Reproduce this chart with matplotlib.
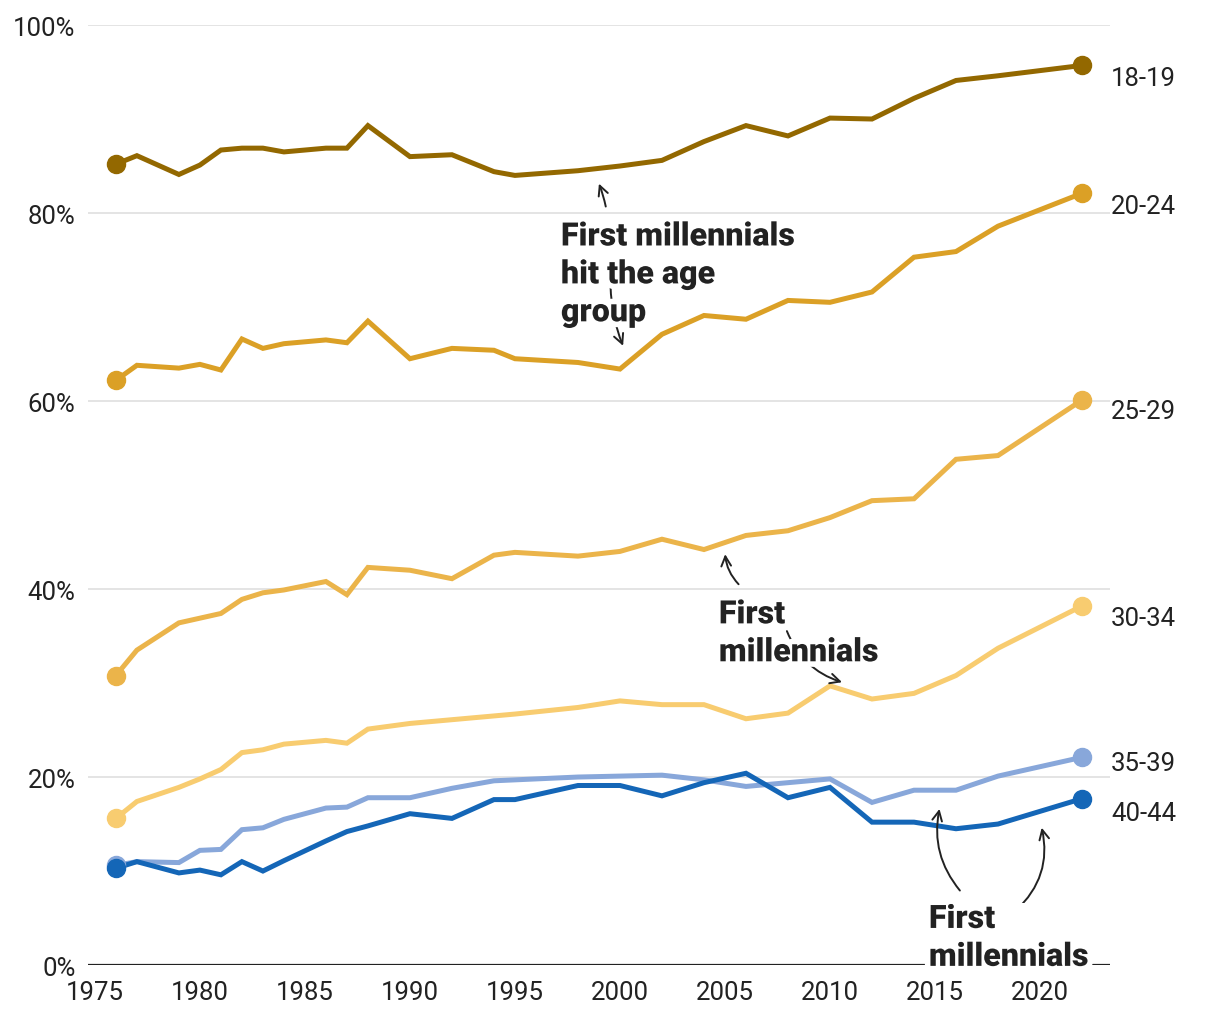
import matplotlib
matplotlib.use("Agg")
import matplotlib.pyplot as plt
import matplotlib.patheffects as pe

# survey years (2020 missing)
years = [1976, 1977, 1979, 1980, 1981, 1982, 1983, 1984, 1986, 1987, 1988, 1990,
         1992, 1994, 1995, 1998, 2000, 2002, 2004, 2006, 2008, 2010, 2012, 2014,
         2016, 2018, 2022]

age_18_19 = [85.2, 86.1, 84.1, 85.1, 86.7, 86.9, 86.9, 86.5, 86.9, 86.9, 89.3, 86.0,
             86.2, 84.4, 84.0, 84.5, 85.0, 85.6, 87.6, 89.3, 88.2, 90.1, 90.0, 92.2,
             94.1, 94.6, 95.7]
age_20_24 = [62.2, 63.8, 63.5, 63.9, 63.3, 66.6, 65.6, 66.1, 66.5, 66.2, 68.5, 64.5,
             65.6, 65.4, 64.5, 64.1, 63.4, 67.1, 69.1, 68.7, 70.7, 70.5, 71.6, 75.3,
             75.9, 78.6, 82.1]
age_25_29 = [30.8, 33.5, 36.4, 36.9, 37.4, 38.9, 39.6, 39.9, 40.8, 39.4, 42.3, 42.0,
             41.1, 43.6, 43.9, 43.5, 44.0, 45.3, 44.2, 45.7, 46.2, 47.6, 49.4, 49.6,
             53.8, 54.2, 60.1]
age_30_34 = [15.6, 17.4, 18.9, 19.8, 20.8, 22.6, 22.9, 23.5, 23.9, 23.6, 25.1, 25.7,
             26.1, 26.5, 26.7, 27.4, 28.1, 27.7, 27.7, 26.2, 26.8, 29.7, 28.3, 28.9,
             30.8, 33.7, 38.2]
age_35_39 = [10.6, 11.0, 10.9, 12.2, 12.3, 14.4, 14.6, 15.5, 16.7, 16.8, 17.8, 17.8,
             18.8, 19.6, 19.7, 20.0, 20.1, 20.2, 19.7, 19.0, 19.4, 19.8, 17.3, 18.6,
             18.6, 20.1, 22.1]
age_40_44 = [10.3, 11.0, 9.8, 10.1, 9.6, 11.0, 10.0, 11.1, 13.2, 14.2, 14.8, 16.1,
             15.6, 17.6, 17.6, 19.1, 19.1, 18.0, 19.4, 20.4, 17.8, 18.9, 15.2, 15.2,
             14.5, 15.0, 17.7]

labels = ["18-19", "20-24", "25-29", "30-34", "35-39", "40-44"]
series = [age_18_19, age_20_24, age_25_29, age_30_34, age_35_39, age_40_44]
colors = ["#936800", "#DBA026", "#EBB44A", "#F8CC70", "#88A7DA", "#1466B7"]
label_dy = [-9, -9, -8, -9, -4, -10]

x_ticks = [1975, 1980, 1985, 1990, 1995, 2000, 2005, 2010, 2015, 2020]
y_ticks = [0, 20, 40, 60, 80, 100]

TXT = "#222222"
plt.rcParams['font.family'] = ['Roboto', 'DejaVu Sans']

fig = plt.figure(figsize=(12.2, 10.2), dpi=100)
ax = fig.add_axes([0.0721, 0.0529, 0.8377, 0.9216])
ax.set_xlim(1974.67, 2023.33)
ax.set_ylim(0, 100)

for y in y_ticks[1:]:
    ax.axhline(y, color="#dddddd", lw=1.1, zorder=1)
ax.axhline(0, color=TXT, lw=1.6, zorder=2)

for name, vals, c, dy in zip(labels, series, colors, label_dy):
    ax.plot(years, vals, color=c, lw=3.6, zorder=3, solid_joinstyle='miter')
    ax.plot([years[0], years[-1]], [vals[0], vals[-1]], 'o', color=c, ms=13, zorder=4)
    ax.annotate(name, xy=(years[-1], vals[-1]), xytext=(21, dy),
                textcoords='offset points', fontsize=18.5, color=TXT,
                ha='left', va='center', annotation_clip=False)

for s in ax.spines.values():
    s.set_visible(False)
ax.set_xticks(x_ticks)
ax.set_yticks(y_ticks)
ax.set_yticklabels([f"{v}%" for v in y_ticks])
ax.tick_params(length=0, labelsize=18.5, colors=TXT)
ax.tick_params(axis='x', pad=11)
ax.tick_params(axis='y', pad=9)

halo = [pe.withStroke(linewidth=8, foreground='white')]
note = dict(fontsize=23.2, fontweight='black', color=TXT, ha='left', va='top',
            linespacing=1.33, zorder=6)
arrow = dict(arrowstyle='->,head_length=0.7,head_width=0.35', color=TXT, lw=1.4)

t1 = ax.text(1997.19, 79.1, "First millennials\nhit the age\ngroup", **note)
t1.set_path_effects(halo)
ax.annotate("", xy=(1998.95, 83.4), xytext=(1999.35, 80.4),
            arrowprops=dict(**arrow, connectionstyle="arc3,rad=0.05"), zorder=5)
ax.annotate("", xy=(2000.2, 65.6), xytext=(1999.55, 72.5),
            arrowprops=dict(**arrow, connectionstyle="arc3,rad=0.1"), zorder=5)

t2 = ax.text(2004.71, 38.9, "First\nmillennials", **note)
t2.set_path_effects(halo)
ax.annotate("", xy=(2005.0, 44.0), xytext=(2005.74, 40.3),
            arrowprops=dict(**arrow, connectionstyle="arc3,rad=-0.2"), zorder=5)
ax.annotate("", xy=(2010.7, 30.0), xytext=(2007.9, 35.8),
            arrowprops=dict(**arrow, connectionstyle="arc3,rad=0.25"), zorder=5)

t3 = ax.text(2014.71, 6.5, "First\nmillennials", **note)
t3.set_path_effects(halo)
t3.set_bbox(dict(facecolor='white', edgecolor='none', pad=1))
ax.annotate("", xy=(2015.24, 16.9), xytext=(2016.27, 7.7),
            arrowprops=dict(**arrow, connectionstyle="arc3,rad=-0.25"), zorder=5)
ax.annotate("", xy=(2020.05, 14.9), xytext=(2018.76, 5.6),
            arrowprops=dict(**arrow, connectionstyle="arc3,rad=0.3"), zorder=5)

fig.savefig("out.png", dpi=100)
